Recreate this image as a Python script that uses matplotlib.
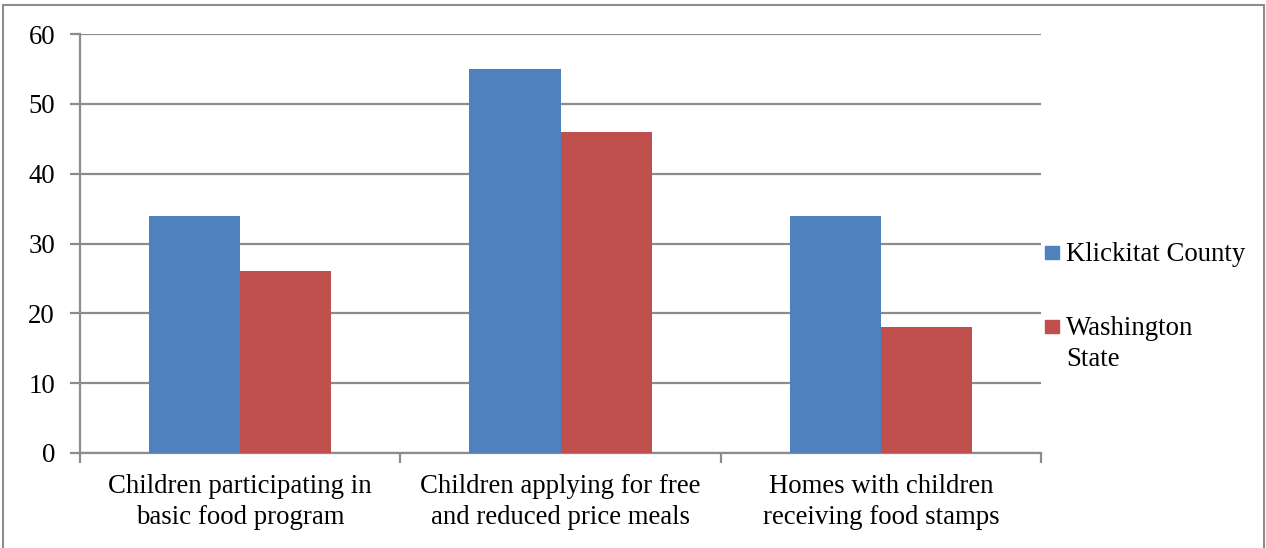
import matplotlib.pyplot as plt
import matplotlib.patches as mpatches
import numpy as np

categories = ["Children participating in\nbasic food program",
              "Children applying for free\nand reduced price meals",
              "Homes with children\nreceiving food stamps"]
klickitat = [34, 55, 34]
washington = [26, 46, 18]
series_names = ["Klickitat County", "Washington\nState"]
colors = ['#4f81bd', '#c0504d']

plt.rcParams['font.family'] = ['Liberation Serif', 'DejaVu Serif']
FS = 19.3
GREY = '#8c8c8c'

W, H = 1266, 548
fig = plt.figure(figsize=(W / 100, H / 100), dpi=100)
ax = fig.add_axes([80 / W, 1 - 453 / H, (1041 - 80) / W, (453 - 34) / H])

x = np.arange(len(categories))
bw = 0.285
ax.bar(x - bw / 2, klickitat, bw, color=colors[0], zorder=3)
ax.bar(x + bw / 2, washington, bw, color=colors[1], zorder=3)

ax.set_xlim(-0.5, len(categories) - 0.5)
ax.set_ylim(0, 60)
ax.set_yticks(range(0, 61, 10))
ax.yaxis.grid(True, color=GREY, linewidth=1.6, zorder=0)

# category boundaries get the tick marks, labels sit between them
ax.set_xticks(np.arange(-0.5, len(categories), 1.0))
ax.set_xticklabels([])
ax.set_xticks(x, minor=True)
ax.set_xticklabels(categories, minor=True, fontsize=FS, linespacing=1.35)
ax.tick_params(axis='x', which='minor', length=0, pad=15)
ax.tick_params(axis='x', which='major', length=7, color=GREY, width=1.6)
ax.tick_params(axis='y', length=7, color=GREY, width=1.6, labelsize=FS, pad=11)

for s in ['top', 'right']:
    ax.spines[s].set_visible(False)
for s in ['left', 'bottom']:
    ax.spines[s].set_color(GREY)
    ax.spines[s].set_linewidth(1.6)

# legend drawn by hand so the square lines up with the first text line
legend_base = [261, 335]
line_gap = 31
for name, c, yb in zip(series_names, colors, legend_base):
    fig.patches.append(mpatches.Rectangle((1045 / W, 1 - (yb - 2) / H), 14 / W, 13 / H,
                                          transform=fig.transFigure, color=c))
    for k, line in enumerate(name.split("\n")):
        fig.text(1066 / W, 1 - (yb + k * line_gap) / H, line, fontsize=FS,
                 va='baseline', ha='left')

# outer chart border
fig.patches.append(mpatches.Rectangle((3 / W, -0.01), (1264 - 3) / W, 1 - 5 / H + 0.01,
                                      transform=fig.transFigure, fill=False,
                                      edgecolor=GREY, linewidth=1.5))

fig.savefig('out.png', dpi=100)
